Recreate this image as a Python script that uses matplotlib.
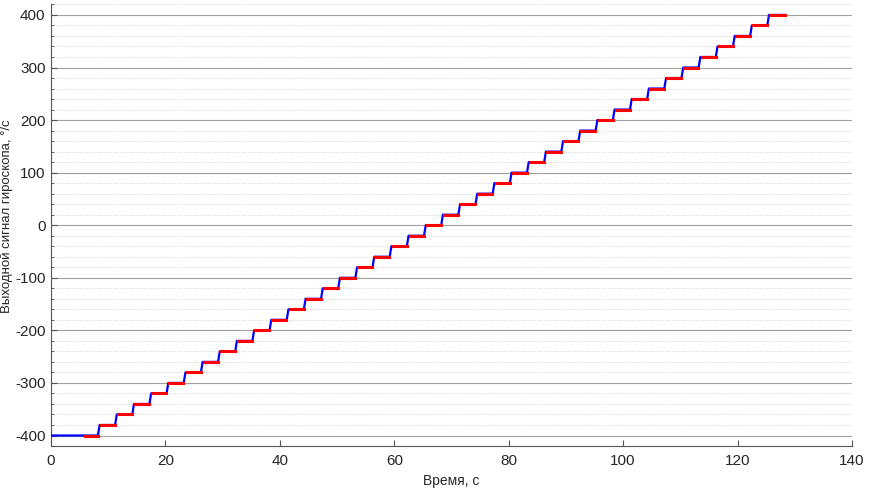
import matplotlib.pyplot as plt
from matplotlib.ticker import MultipleLocator

plt.rcParams['font.family'] = ['Liberation Sans', 'DejaVu Sans']
plt.rcParams['axes.unicode_minus'] = False

# уровни угловой скорости на каждой ступени, °/с
levels = [-400, -380, -360, -340, -320, -300, -280, -260, -240, -220,
          -200, -180, -160, -140, -120, -100, -80, -60, -40, -20,
          0, 20, 40, 60, 80, 100, 120, 140, 160, 180,
          200, 220, 240, 260, 280, 300, 320, 340, 360, 380, 400]

# моменты переключения ступеней, с
t_jump = [8.2, 11.2, 14.2, 17.2, 20.2, 23.2, 26.2, 29.2, 32.2, 35.2,
          38.2, 41.2, 44.2, 47.2, 50.2, 53.2, 56.2, 59.2, 62.2, 65.2,
          68.2, 71.2, 74.2, 77.2, 80.2, 83.2, 86.2, 89.2, 92.2, 95.2,
          98.2, 101.2, 104.2, 107.2, 110.2, 113.2, 116.2, 119.2, 122.2, 125.2]

t_start = 0.0
t_end = 128.3
t_red_first = 5.9   # начало первого "красного" участка
rise = 0.3          # длительность перехода
settle = 0.5        # задержка перед участком установившегося сигнала

# полный сигнал (синий)
tx = [t_start]
ty = [levels[0]]
for i, tj in enumerate(t_jump):
    tx += [tj, tj + rise]
    ty += [levels[i], levels[i + 1]]
tx.append(t_end)
ty.append(levels[-1])

fig = plt.figure(figsize=(8.69, 4.91), dpi=100)
ax = fig.add_axes([0.0587, 0.0916, 0.9217, 0.8994])

ax.plot(tx, ty, color='blue', lw=1.6, zorder=3)

# установившиеся участки (красные)
starts = [t_red_first] + [tj + settle for tj in t_jump]
ends = [tj - 0.05 for tj in t_jump] + [t_end]
for s, e, lev in zip(starts, ends, levels):
    ax.plot([s, e], [lev, lev], color='red', lw=2.2, zorder=4)

ax.set_xlim(0, 140)
ax.set_ylim(-420, 420)
ax.xaxis.set_major_locator(MultipleLocator(20))
ax.yaxis.set_major_locator(MultipleLocator(100))
ax.yaxis.set_minor_locator(MultipleLocator(20))

ax.grid(True, which='major', axis='y', color='#a0a0a0', lw=0.8)
ax.grid(True, which='minor', axis='y', color='#c8c8c8', lw=0.6, ls=':')

for side in ['top', 'right']:
    ax.spines[side].set_visible(False)
for side in ['left', 'bottom']:
    ax.spines[side].set_color('#555555')
    ax.spines[side].set_linewidth(0.8)

ax.tick_params(axis='both', which='both', direction='in', colors='#555555',
               labelcolor='#262626', labelsize=11)
ax.tick_params(axis='y', which='minor', length=2.5)
ax.tick_params(axis='both', which='major', length=4)
ax.tick_params(axis='x', pad=6)
ax.tick_params(axis='y', pad=4)

ax.set_xlabel('Время, с', fontsize=10, color='#262626')
ax.set_ylabel('Выходной сигнал гироскопа, °/с', fontsize=9.5, color='#262626')
ax.xaxis.set_label_coords(0.5, -0.063)
ax.yaxis.set_label_coords(-0.047, 0.52)

fig.savefig('out.png', dpi=100)
